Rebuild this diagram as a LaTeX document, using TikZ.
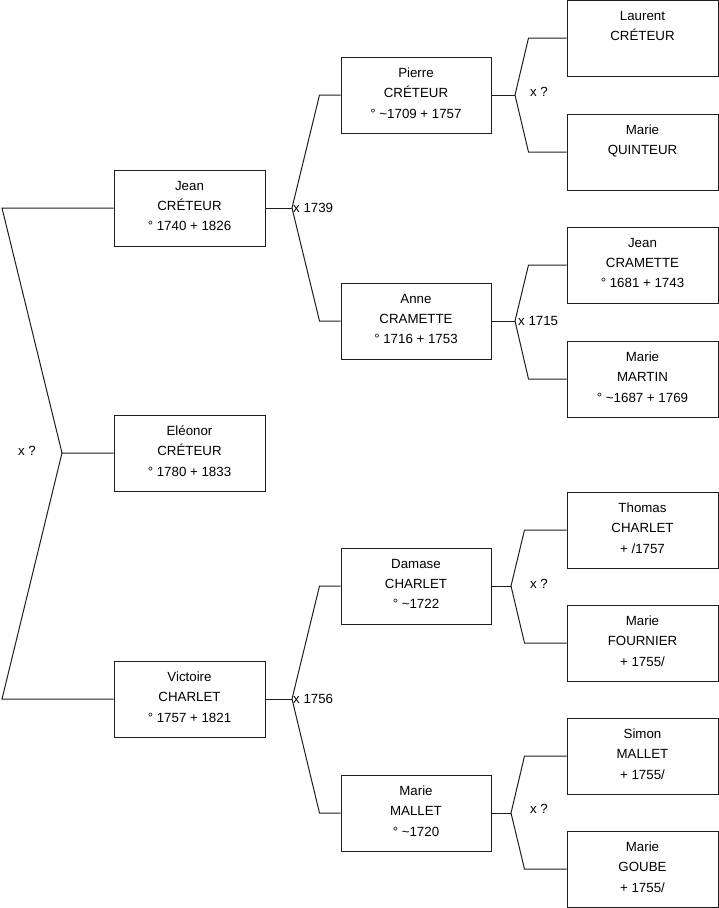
\documentclass[tikz,border=0pt]{standalone}
\usepackage{fontspec}
\setmainfont{Liberation Sans}
\usetikzlibrary{positioning, calc}
\definecolor{linegray}{RGB}{30,30,30}
\newcommand{\depthfix}{\rule[-4pt]{0pt}{4pt}}

\begin{document}
\begin{tikzpicture}[
        x=1pt, y=-1pt,
        person/.style={rectangle, draw=linegray, line width=1pt, minimum width=151pt, minimum height=76pt, inner sep=0pt, align=center, font=\fontsize{13.3}{20.2}\selectfont},
        marr/.style={inner sep=1pt, font=\fontsize{13.3}{15}\selectfont},
        link/.style={draw=linegray, line width=1pt}
    ]
        \useasboundingbox (0,0) rectangle (719,908);

        % Generation 1
        \node[person] (jean) at (189.5,208) {Jean\\CRÉTEUR\\° 1740 + 1826\depthfix};
        \node[person] (eleonor) at (189.5,453) {Eléonor\\CRÉTEUR\\° 1780 + 1833\depthfix};
        \node[person] (victoire) at (189.5,699) {Victoire\\CHARLET\\° 1757 + 1821\depthfix};

        % Generation 2
        \node[person, minimum width=150pt] (pierre) at (416,95) {Pierre\\CRÉTEUR\\° \textasciitilde1709 + 1757\depthfix};
        \node[person, minimum width=150pt] (anne) at (416,321) {Anne\\CRAMETTE\\° 1716 + 1753\depthfix};
        \node[person, minimum width=150pt] (damase) at (416,586) {Damase\\CHARLET\\° \textasciitilde1722\depthfix};
        \node[person, minimum width=150pt] (mmallet) at (416,813) {Marie\\MALLET\\° \textasciitilde1720\depthfix};

        % Generation 3
        \node[person] (laurent) at (642.5,38) {Laurent\\CRÉTEUR\\\phantom{0}\depthfix};
        \node[person] (quinteur) at (642.5,152) {Marie\\QUINTEUR\\\phantom{0}\depthfix};
        \node[person] (cramette) at (642.5,265) {Jean\\CRAMETTE\\° 1681 + 1743\depthfix};
        \node[person] (martin) at (642.5,379) {Marie\\MARTIN\\° \textasciitilde1687 + 1769\depthfix};
        \node[person] (thomas) at (642.5,530) {Thomas\\CHARLET\\+ /1757\depthfix};
        \node[person] (fournier) at (642.5,643) {Marie\\FOURNIER\\+ 1755/\depthfix};
        \node[person] (simon) at (642.5,756) {Simon\\MALLET\\+ 1755/\depthfix};
        \node[person] (goube) at (642.5,869) {Marie\\GOUBE\\+ 1755/\depthfix};

        % Marriage points
        \coordinate (mx0) at (62,453);
        \coordinate (mx0a) at (2,208);
        \coordinate (mx0b) at (2,699);
        \coordinate (mx1) at (292,208);
        \coordinate (mx2) at (292,699);
        \coordinate (mx3) at (515,95);
        \coordinate (mx4) at (515,321);
        \coordinate (mx5) at (511,586);
        \coordinate (mx6) at (511,813);

        % Links
        \draw[link] (jean.west) -- (mx0a) -- (mx0) -- (eleonor.west);
        \draw[link] (mx0) -- (mx0b) -- (victoire.west);

        \draw[link] (jean.east) -- (mx1);
        \draw[link] (pierre.west) -- ++(-21,0) -- (mx1) -- ($(anne.west)+(-21,0)$) -- (anne.west);
        \draw[link] (victoire.east) -- (mx2);
        \draw[link] (damase.west) -- ++(-21,0) -- (mx2) -- ($(mmallet.west)+(-21,0)$) -- (mmallet.west);

        \draw[link] (pierre.east) -- (mx3);
        \draw[link] (laurent.west) -- ++(-38,0) -- (mx3) -- ($(quinteur.west)+(-38,0)$) -- (quinteur.west);
        \draw[link] (anne.east) -- (mx4);
        \draw[link] (cramette.west) -- ++(-38,0) -- (mx4) -- ($(martin.west)+(-38,0)$) -- (martin.west);
        \draw[link] (damase.east) -- (mx5);
        \draw[link] (thomas.west) -- ++(-42,0) -- (mx5) -- ($(fournier.west)+(-42,0)$) -- (fournier.west);
        \draw[link] (mmallet.east) -- (mx6);
        \draw[link] (simon.west) -- ++(-42,0) -- (mx6) -- ($(goube.west)+(-42,0)$) -- (goube.west);

        % Marriage labels
        \node[marr] (l0) at (27,451) {x ?};
        \node[marr, anchor=west] (l1) at (mx1) {x 1739};
        \node[marr, anchor=west] (l2) at (mx2) {x 1756};
        \node[marr] (l3) at (539,92) {x ?};
        \node[marr, anchor=west] (l4) at ($(mx4)+(2,0)$) {x 1715};
        \node[marr] (l5) at (539,584) {x ?};
        \node[marr] (l6) at (539,809) {x ?};
    \end{tikzpicture}
\end{document}
